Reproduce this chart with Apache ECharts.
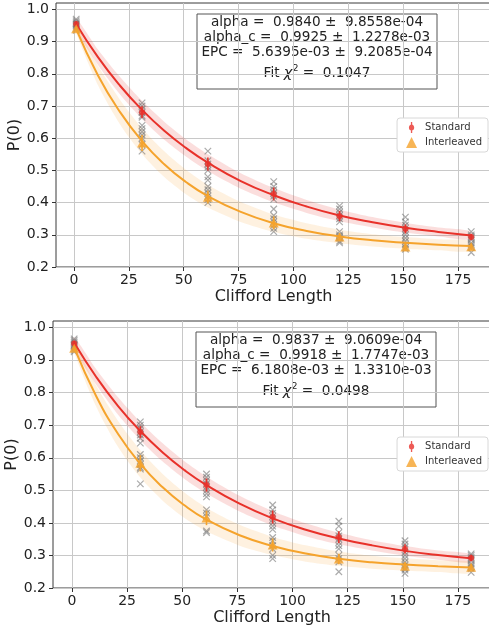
<!DOCTYPE html>
<html>
<head>
<meta charset="utf-8">
<script src="https://cdn.jsdelivr.net/npm/echarts@6/dist/echarts.min.js"></script>
<style>
  html, body { margin: 0; padding: 0; background: #fff; }
  #chart { width: 489px; height: 631px; }
</style>
</head>
<body>
<div id="chart"></div>
<script>
// clifford lengths where seeds were measured
const lengths = [1, 31, 61, 91, 121, 151, 181]
const curveX = [1, 11, 21, 31, 41, 51, 61, 76, 91, 106, 121, 136, 151, 166, 181]
const xTicks = [0, 25, 50, 75, 100, 125, 150, 175]
const yTicks = [0.2, 0.3, 0.4, 0.5, 0.6, 0.7, 0.8, 0.9, 1.0]

// ---- top panel ----
const stdFitTop = [0.955, 0.851, 0.763, 0.688, 0.624, 0.570, 0.524, 0.467, 0.423, 0.388, 0.360, 0.339, 0.322, 0.309, 0.298]
const intFitTop = [0.939, 0.794, 0.681, 0.591, 0.520, 0.464, 0.420, 0.371, 0.336, 0.312, 0.295, 0.283, 0.275, 0.269, 0.265]
const stdBandTop = [0.018, 0.024, 0.027, 0.028, 0.028, 0.027, 0.026, 0.024, 0.022, 0.020, 0.018, 0.016, 0.015, 0.014, 0.013]
const intBandTop = [0.012, 0.030, 0.038, 0.040, 0.040, 0.038, 0.035, 0.031, 0.027, 0.024, 0.021, 0.019, 0.018, 0.017, 0.016]
const stdMeanTop = [0.955, 0.681, 0.520, 0.427, 0.358, 0.318, 0.293]
const intMeanTop = [0.940, 0.585, 0.417, 0.337, 0.293, 0.262, 0.263]
const stdErrTop = [0.008, 0.018, 0.020, 0.020, 0.016, 0.014, 0.010]
const intErrTop = [0.008, 0.025, 0.020, 0.020, 0.012, 0.012, 0.010]
const stdSeedsTop = [
  [0.97, 0.965, 0.96, 0.955, 0.95],
  [0.71, 0.70, 0.69, 0.68, 0.67, 0.665],
  [0.56, 0.53, 0.52, 0.51, 0.50, 0.48, 0.47],
  [0.465, 0.45, 0.44, 0.43, 0.42, 0.41],
  [0.39, 0.38, 0.37, 0.36, 0.35, 0.34],
  [0.355, 0.34, 0.33, 0.32, 0.31, 0.30],
  [0.31, 0.30, 0.295, 0.29, 0.285]
]
const intSeedsTop = [
  [0.955, 0.945, 0.94, 0.935],
  [0.64, 0.63, 0.62, 0.61, 0.60, 0.58, 0.56],
  [0.45, 0.44, 0.43, 0.42, 0.41, 0.40],
  [0.38, 0.36, 0.35, 0.34, 0.33, 0.32, 0.31],
  [0.31, 0.30, 0.295, 0.29, 0.28, 0.275],
  [0.29, 0.28, 0.27, 0.26, 0.255],
  [0.275, 0.27, 0.265, 0.26, 0.245]
]
const boxTop = ['alpha =  0.9840 \u00b1  9.8558e-04', 'alpha_c =  0.9925 \u00b1  1.2278e-03', 'EPC =  5.6395e-03 \u00b1  9.2085e-04', '0.1047']

// ---- bottom panel ----
const stdFitBot = [0.953, 0.848, 0.758, 0.682, 0.617, 0.562, 0.516, 0.459, 0.414, 0.379, 0.352, 0.331, 0.314, 0.301, 0.291]
const intFitBot = [0.938, 0.789, 0.672, 0.581, 0.510, 0.454, 0.410, 0.362, 0.329, 0.306, 0.290, 0.279, 0.272, 0.267, 0.263]
const stdBandBot = [0.018, 0.024, 0.027, 0.028, 0.028, 0.027, 0.026, 0.024, 0.022, 0.020, 0.018, 0.016, 0.015, 0.014, 0.013]
const intBandBot = [0.014, 0.032, 0.040, 0.042, 0.041, 0.039, 0.036, 0.032, 0.028, 0.025, 0.022, 0.020, 0.019, 0.018, 0.017]
const stdMeanBot = [0.951, 0.679, 0.516, 0.418, 0.356, 0.320, 0.292]
const intMeanBot = [0.936, 0.583, 0.415, 0.332, 0.289, 0.267, 0.264]
const stdErrBot = [0.008, 0.018, 0.020, 0.020, 0.018, 0.014, 0.010]
const intErrBot = [0.008, 0.025, 0.022, 0.020, 0.016, 0.012, 0.010]
const stdSeedsBot = [
  [0.965, 0.96, 0.955, 0.95, 0.945],
  [0.71, 0.70, 0.69, 0.68, 0.67, 0.66, 0.645],
  [0.55, 0.54, 0.53, 0.52, 0.51, 0.50, 0.49, 0.48],
  [0.455, 0.44, 0.43, 0.42, 0.41, 0.40, 0.39, 0.38],
  [0.405, 0.39, 0.37, 0.36, 0.35, 0.34, 0.33],
  [0.345, 0.335, 0.325, 0.31, 0.30, 0.29],
  [0.305, 0.30, 0.295, 0.29, 0.285]
]
const intSeedsBot = [
  [0.945, 0.94, 0.935, 0.93, 0.925],
  [0.61, 0.60, 0.59, 0.58, 0.57, 0.565, 0.52],
  [0.44, 0.43, 0.42, 0.375, 0.37],
  [0.355, 0.345, 0.33, 0.32, 0.30, 0.29],
  [0.32, 0.30, 0.29, 0.28, 0.25],
  [0.28, 0.27, 0.26, 0.255, 0.245],
  [0.275, 0.27, 0.265, 0.26, 0.248]
]
const boxBot = ['alpha =  0.9837 \u00b1  9.0609e-04', 'alpha_c =  0.9918 \u00b1  1.7747e-03', 'EPC =  6.1808e-03 \u00b1  1.3310e-03', '0.0498']

const RED = '#e8312a'
const ORANGE = '#f5a32c'
const FONT = 'DejaVu Sans'
const chart = echarts.init(document.getElementById('chart'), null, { renderer: 'canvas' })

function xAxisFor (i, min) {
  return {
    type: 'value', gridIndex: i, min: min, max: 190,
    name: 'Clifford Length', nameLocation: 'middle', nameGap: 22, nameMoveOverlap: false,
    nameTextStyle: { fontFamily: FONT, fontSize: 16, color: '#222' },
    axisLine: { show: false, onZero: false },
    axisTick: { show: true, length: 4, customValues: xTicks, lineStyle: { color: '#333' } },
    axisLabel: { customValues: xTicks, margin: 6, fontFamily: FONT, fontSize: 14, color: '#222' },
    splitLine: { show: true, lineStyle: { color: '#c8c8c8', width: 1 } }
  }
}

function yAxisFor (i) {
  return {
    type: 'value', gridIndex: i, min: 0.2, max: 1.02,
    name: 'P(0)', nameLocation: 'middle', nameGap: 33, nameRotate: 90, nameMoveOverlap: false,
    nameTextStyle: { fontFamily: FONT, fontSize: 16, color: '#222' },
    axisLine: { show: false, onZero: false },
    axisTick: { show: true, length: 4, customValues: yTicks, lineStyle: { color: '#333' } },
    axisLabel: { customValues: yTicks, margin: 7, fontFamily: FONT, fontSize: 14, color: '#222', formatter: v => v.toFixed(1) },
    splitLine: { show: true, lineStyle: { color: '#c8c8c8', width: 1 } }
  }
}

// confidence band as one polygon: upper edge left->right, lower edge right->left
function band (i, fit, hw, color, name) {
  return {
    type: 'custom', name: name, xAxisIndex: i, yAxisIndex: i, z: 1, silent: true,
    encode: { x: 0, y: [1, 2] },
    data: curveX.map((x, k) => [x, fit[k] - hw[k], fit[k] + hw[k]]),
    renderItem: (params, api) => {
      if (params.dataIndex !== 0) return null
      const n = params.dataInsideLength
      const upper = []
      const lower = []
      for (let k = 0; k < n; k++) {
        upper.push(api.coord([api.value(0, k), api.value(2, k)]))
        lower.push(api.coord([api.value(0, k), api.value(1, k)]))
      }
      return {
        type: 'polygon',
        shape: { points: upper.concat(lower.reverse()), smooth: 0.25 },
        style: { fill: color }
      }
    }
  }
}

function errBars (i, means, errs, color, name) {
  return {
    type: 'custom', name: name, xAxisIndex: i, yAxisIndex: i, z: 5, silent: true,
    encode: { x: 0, y: 1 },
    data: lengths.map((x, k) => [x, means[k], errs[k]]),
    renderItem: (params, api) => {
      const a = api.coord([api.value(0), api.value(1) - api.value(2)])
      const b = api.coord([api.value(0), api.value(1) + api.value(2)])
      return { type: 'line', shape: { x1: a[0], y1: a[1], x2: b[0], y2: b[1] }, style: { stroke: color, lineWidth: 1.6 } }
    }
  }
}

function seeds (list) {
  const pts = []
  lengths.forEach((x, k) => list[k].forEach(v => pts.push([x, v])))
  return pts
}

function panel (i, d) {
  return [
    band(i, d.stdFit, d.stdBand, 'rgba(232,49,42,0.16)', 'stdBand' + i),
    band(i, d.intFit, d.intBand, 'rgba(245,163,44,0.15)', 'intBand' + i),
    {
      type: 'scatter', name: 'seeds' + i, xAxisIndex: i, yAxisIndex: i, z: 2, silent: true,
      symbol: 'path://M0,0L10,10M10,0L0,10', symbolSize: 6.5,
      itemStyle: { color: 'none', borderColor: 'rgba(115,115,115,0.75)', borderWidth: 1.2 },
      data: seeds(d.stdSeeds).concat(seeds(d.intSeeds))
    },
    {
      type: 'line', name: 'stdFit' + i, xAxisIndex: i, yAxisIndex: i, z: 3, smooth: true, symbol: 'none', silent: true,
      lineStyle: { color: RED, width: 2 }, data: curveX.map((x, k) => [x, d.stdFit[k]])
    },
    {
      type: 'line', name: 'intFit' + i, xAxisIndex: i, yAxisIndex: i, z: 3, smooth: true, symbol: 'none', silent: true,
      lineStyle: { color: ORANGE, width: 2 }, data: curveX.map((x, k) => [x, d.intFit[k]])
    },
    errBars(i, d.stdMean, d.stdErr, RED, 'stdErr' + i),
    errBars(i, d.intMean, d.intErr, ORANGE, 'intErr' + i),
    {
      type: 'scatter', name: 'Standard', xAxisIndex: i, yAxisIndex: i, z: 6,
      symbol: 'circle', symbolSize: 6, itemStyle: { color: RED },
      data: lengths.map((x, k) => [x, d.stdMean[k]])
    },
    {
      type: 'scatter', name: 'Interleaved', xAxisIndex: i, yAxisIndex: i, z: 6,
      symbol: 'triangle', symbolSize: [10, 9], itemStyle: { color: ORANGE },
      data: lengths.map((x, k) => [x, d.intMean[k]])
    }
  ]
}

function textBox (x, y, lines) {
  const cx = x + 120
  const line = (txt, dy) => ({
    type: 'text', x: cx, y: y + dy,
    style: { text: txt, fontFamily: FONT, fontSize: 13.6, fill: '#222', align: 'center', verticalAlign: 'middle' }
  })
  return {
    type: 'group', z: 20,
    children: [
      { type: 'rect', shape: { x: x, y: y, width: 240, height: 75 }, style: { fill: '#fff', stroke: '#555', lineWidth: 1 } },
      line(lines[0], 8),
      line(lines[1], 23),
      line(lines[2], 38),
      {
        type: 'text', x: cx, y: y + 59,
        style: {
          text: 'Fit {chi|\u03c7}{sup|2} =  ' + lines[3],
          fontFamily: FONT, fontSize: 13.6, fill: '#222', align: 'center', verticalAlign: 'middle',
          rich: {
            chi: { fontFamily: FONT, fontSize: 14.5, fontStyle: 'italic', fill: '#222' },
            sup: { fontFamily: FONT, fontSize: 9.5, fill: '#222', padding: [0, 0, 9, 0] }
          }
        }
      }
    ]
  }
}

const legendIcon = 'path://M4.4,0L5.6,0L5.6,10L4.4,10Z M5,2.2C6.6,2.2 7.4,3.5 7.4,5C7.4,6.5 6.6,7.8 5,7.8C3.4,7.8 2.6,6.5 2.6,5C2.6,3.5 3.4,2.2 5,2.2Z'

function legendAt (top) {
  return {
    top: top, right: 1, orient: 'vertical',
    data: [{ name: 'Standard', icon: legendIcon }, { name: 'Interleaved', icon: 'triangle' }],
    itemWidth: 11, itemHeight: 11, itemGap: 4,
    padding: [4, 6, 4, 9],
    backgroundColor: '#fff', borderColor: '#d8d8d8', borderWidth: 1, borderRadius: 3,
    textStyle: { fontFamily: FONT, fontSize: 10, color: '#333', padding: [0, 0, 0, 3] },
    selectedMode: false
  }
}

const option = {
  animation: false,
  backgroundColor: '#fff',
  grid: [
    { left: 56, top: 3, width: 435, height: 264, show: true, borderColor: '#3a3a3a', borderWidth: 1, backgroundColor: 'transparent', containLabel: false, outerBoundsMode: 'none' },
    { left: 53, top: 321, width: 438, height: 267, show: true, borderColor: '#3a3a3a', borderWidth: 1, backgroundColor: 'transparent', containLabel: false, outerBoundsMode: 'none' }
  ],
  xAxis: [xAxisFor(0, -8.2), xAxisFor(1, -8.6)],
  yAxis: [yAxisFor(0), yAxisFor(1)],
  legend: [legendAt(118), legendAt(437)],
  graphic: [textBox(197, 14, boxTop), textBox(196, 332, boxBot)],
  series: [
    ...panel(0, {
      stdFit: stdFitTop, intFit: intFitTop, stdBand: stdBandTop, intBand: intBandTop,
      stdMean: stdMeanTop, intMean: intMeanTop, stdErr: stdErrTop, intErr: intErrTop,
      stdSeeds: stdSeedsTop, intSeeds: intSeedsTop
    }),
    ...panel(1, {
      stdFit: stdFitBot, intFit: intFitBot, stdBand: stdBandBot, intBand: intBandBot,
      stdMean: stdMeanBot, intMean: intMeanBot, stdErr: stdErrBot, intErr: intErrBot,
      stdSeeds: stdSeedsBot, intSeeds: intSeedsBot
    })
  ]
}

chart.setOption(option)
</script>
</body>
</html>
